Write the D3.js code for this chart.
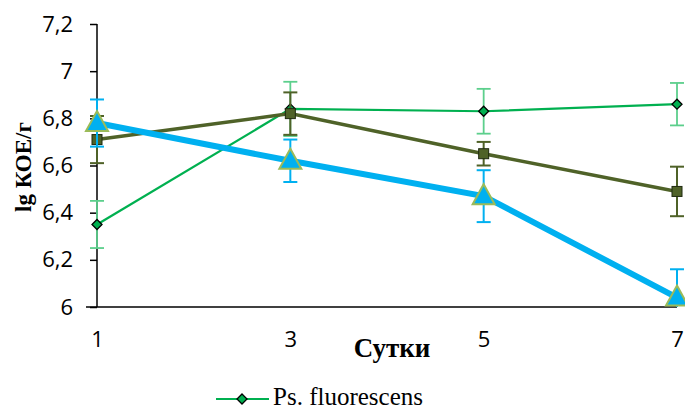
<!DOCTYPE html>
<html><head><meta charset="utf-8">
<script src="https://cdn.jsdelivr.net/npm/d3@7"></script>
<style>body{margin:0;background:#fff}svg{display:block}</style>
</head><body>
<svg id="c" width="685" height="411"></svg>
<script>
const days = ["1","3","5","7"];
const yTicks = [6, 6.2, 6.4, 6.6, 6.8, 7, 7.2];
const fluorValues = [6.35, 6.84, 6.83, 6.86];
const fluorErr = [0.10, 0.115, 0.095, 0.09];
const oliveValues = [6.71, 6.82, 6.65, 6.49];
const oliveErr = [0.10, 0.09, 0.05, 0.105];
const blueValues = [6.78, 6.62, 6.47, 6.04];
const blueErr = [0.10, 0.09, 0.11, 0.12];
const legendLabel = "Ps. fluorescens";

const svg = d3.select("#c");
const x = d3.scalePoint().domain(days).range([97, 677]);
const y = d3.scaleLinear().domain([6, 7.2]).range([307, 24]);
const tickFont = "'Open Sans', Lato, sans-serif";
const serif = "'Liberation Serif', 'Times New Roman', serif";

svg.append("defs").append("clipPath").attr("id","plot")
  .append("rect").attr("x",0).attr("y",0).attr("width",685).attr("height",307);

// y axis
const yAxis = d3.axisLeft(y).tickValues(yTicks).tickSize(7).tickPadding(17)
  .tickFormat(d => d3.format(".1f")(d).replace(".0","").replace(".",","));
const gy = svg.append("g").attr("transform","translate(97,0)").call(yAxis);
gy.select(".domain").attr("stroke","#000").attr("stroke-width",1.5).attr("d","M0,24V307");
gy.selectAll(".tick line").attr("stroke","#000").attr("stroke-width",1.5);
gy.selectAll("text").attr("font-family",tickFont).attr("font-size",22).attr("fill","#000");

// x axis
const xAxis = d3.axisBottom(x).tickSize(0).tickPadding(24);
const gx = svg.append("g").attr("transform","translate(0,307)").call(xAxis);
gx.select(".domain").attr("stroke","#000").attr("stroke-width",1.5).attr("d","M86,0H677");
gx.selectAll("text").attr("font-family",tickFont).attr("font-size",22).attr("fill","#000");

// titles
svg.append("text").attr("x",392).attr("y",357).attr("text-anchor","middle")
  .attr("font-family",serif).attr("font-weight","bold").attr("font-size",27).text("Сутки");
svg.append("text").attr("transform","translate(31,167) rotate(-90)").attr("text-anchor","middle")
  .attr("font-family",serif).attr("font-weight","bold").attr("font-size",23).text("lg КОЕ/г");

const line = d3.line().x((d,i)=>x(days[i])).y(d=>y(d));
const diamond = "M0,-5L5,0L0,5L-5,0Z";

function errBars(vals, errs, color, w){
  const g = svg.append("g").attr("stroke",color).attr("stroke-width",w).attr("clip-path","url(#plot)");
  vals.forEach((v,i)=>{
    const cx = x(days[i]);
    g.append("line").attr("x1",cx).attr("x2",cx).attr("y1",y(v+errs[i])).attr("y2",y(v-errs[i]));
    [v+errs[i], v-errs[i]].forEach(e=>{
      g.append("line").attr("x1",cx-7).attr("x2",cx+7).attr("y1",y(e)).attr("y2",y(e));
    });
  });
}

// green series
errBars(fluorValues, fluorErr, "#5ccf8c", 1.8);
svg.append("path").datum(fluorValues).attr("d",line).attr("fill","none").attr("stroke","#00B050").attr("stroke-width",2.2);
svg.append("g").selectAll("path").data(fluorValues).join("path")
  .attr("transform",(d,i)=>`translate(${x(days[i])},${y(d)})`)
  .attr("d",diamond).attr("fill","#00B050").attr("stroke","#000").attr("stroke-width",1.3);

// olive series
errBars(oliveValues, oliveErr, "#4F6228", 2);
svg.append("path").datum(oliveValues).attr("d",line).attr("fill","none").attr("stroke","#4F6228").attr("stroke-width",3.5);
svg.append("g").selectAll("rect").data(oliveValues).join("rect")
  .attr("x",(d,i)=>x(days[i])-5).attr("y",d=>y(d)-5).attr("width",10).attr("height",10)
  .attr("fill","#4F6228").attr("stroke","#1f2a10").attr("stroke-width",1);

// blue series
errBars(blueValues, blueErr, "#00B0F0", 2);
svg.append("path").datum(blueValues).attr("d",line).attr("fill","none").attr("stroke","#00B0F0").attr("stroke-width",6);
svg.append("g").selectAll("path").data(blueValues).join("path")
  .attr("transform",(d,i)=>`translate(${x(days[i])},${y(d)})`)
  .attr("d","M0,-12L11,8L-11,8Z").attr("fill","#00B0F0").attr("stroke","#9BBB59").attr("stroke-width",2);

// legend
const lg = svg.append("g").attr("transform","translate(0,399)");
lg.append("line").attr("x1",216).attr("x2",269).attr("y1",0).attr("y2",0).attr("stroke","#00B050").attr("stroke-width",2.2);
lg.append("path").attr("transform","translate(242,0)").attr("d",diamond)
  .attr("fill","#00B050").attr("stroke","#000").attr("stroke-width",1.3);
lg.append("text").attr("x",273).attr("y",6).attr("font-family",serif)
  .attr("font-size",25).text(legendLabel);
</script>
</body></html>
